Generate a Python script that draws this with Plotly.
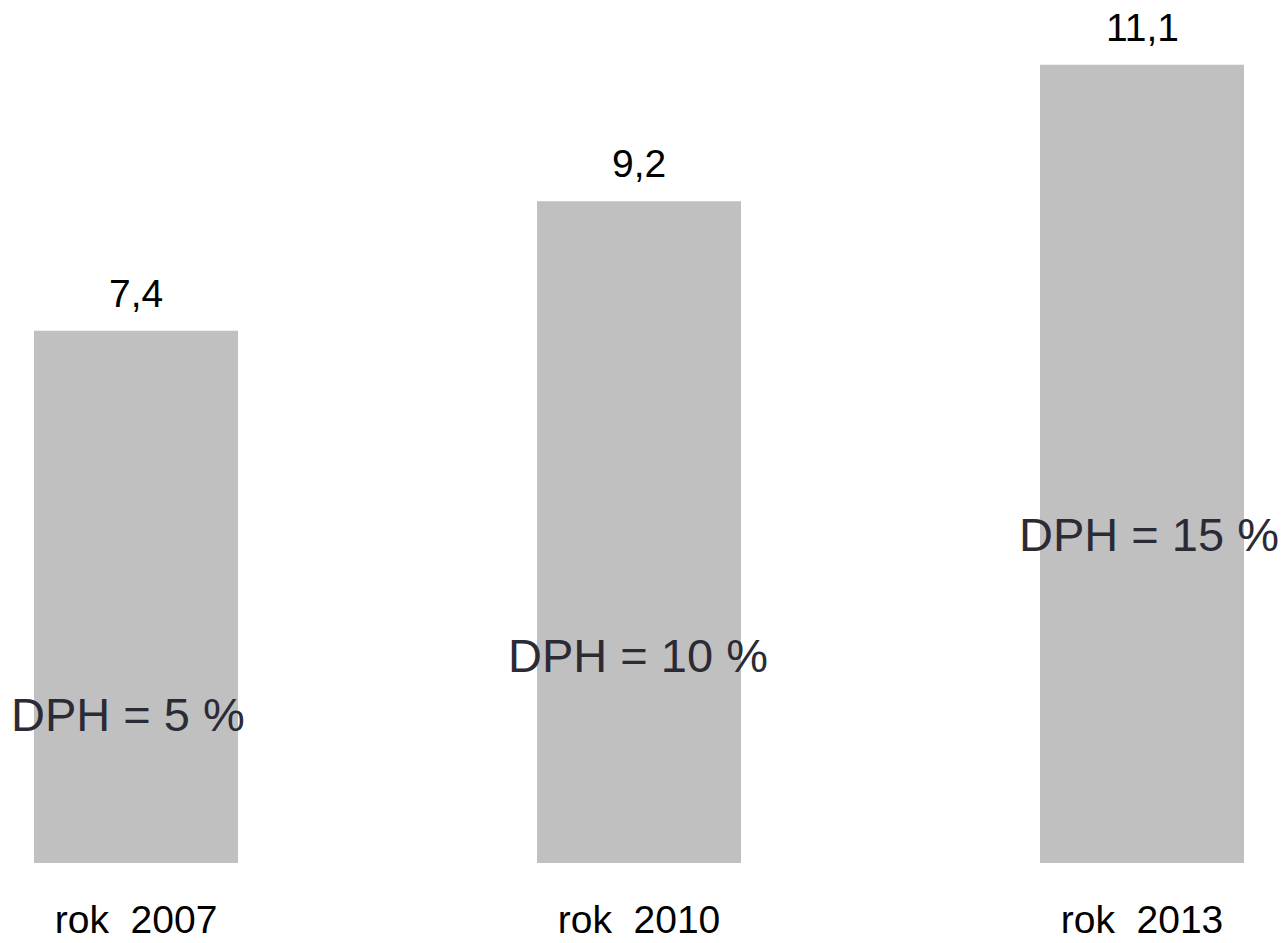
import plotly.graph_objects as go

categories = ["rok\u00a0 2007", "rok\u00a0 2010", "rok\u00a0 2013"]
values = [7.4, 9.2, 11.1]
value_labels = ["7,4", "9,2", "11,1"]
vat_labels = ["DPH = 5 %", "DPH = 10 %", "DPH = 15 %"]

FONT = "Arial, 'Liberation Sans', sans-serif"
x_pos = list(range(len(categories)))

fig = go.Figure()
fig.add_trace(go.Bar(
    x=x_pos, y=values, width=0.4056,
    marker=dict(color="#c0c0c0", line=dict(width=0)),
    hoverinfo="skip", showlegend=False,
))

annotations = []
for xi, v, lab in zip(x_pos, values, value_labels):
    annotations.append(dict(
        x=xi, y=v, xref="x", yref="y", text=lab, showarrow=False,
        xanchor="center", yanchor="bottom", yshift=14,
        font=dict(family=FONT, size=39, color="#000000"),
    ))

vat_x = [-0.016, 0.998, 2.014]
vat_y = [2.06, 2.88, 4.57]
for xi, yi, lab in zip(vat_x, vat_y, vat_labels):
    annotations.append(dict(
        x=xi, y=yi, xref="x", yref="y", text=lab, showarrow=False,
        xanchor="center", yanchor="middle",
        font=dict(family=FONT, size=47, color="#2b2b36"),
    ))

fig.update_layout(
    width=1285, height=943,
    margin=dict(l=0, r=0, t=0, b=80),
    paper_bgcolor="white", plot_bgcolor="white",
    annotations=annotations,
    xaxis=dict(
        range=[-0.2704, 2.2843], tickvals=x_pos, ticktext=categories,
        showgrid=False, zeroline=False, showline=False, ticks="",
        tickfont=dict(family=FONT, size=39, color="#000000"),
        ticklabelstandoff=30, automargin=False,
        fixedrange=True,
    ),
    yaxis=dict(
        range=[0, 12], visible=False, showgrid=False, zeroline=False,
        fixedrange=True, automargin=False,
    ),
)

fig.write_html(
    "out.html",
    config={"displayModeBar": False},
    post_script="document.body.style.margin='0';document.body.style.padding='0';document.body.style.overflow='hidden';",
)
